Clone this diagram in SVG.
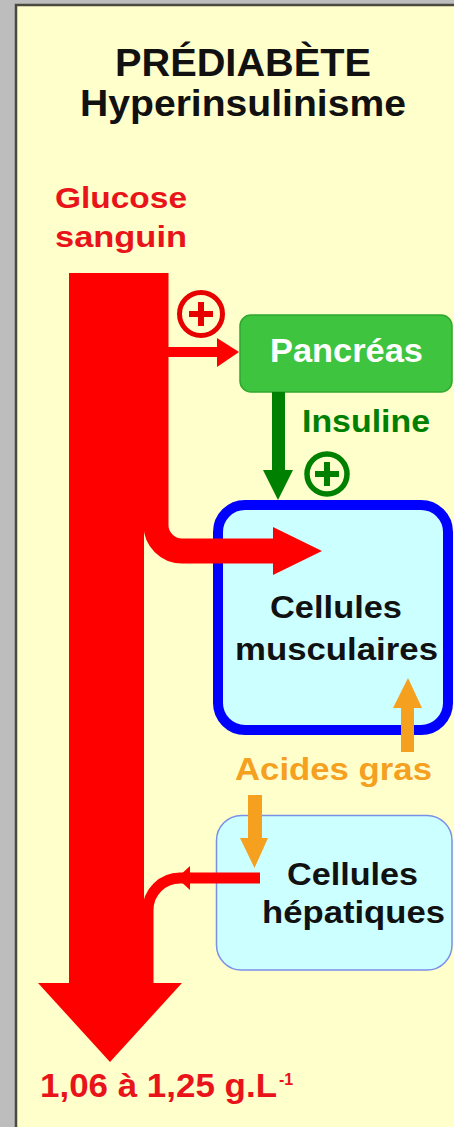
<svg xmlns="http://www.w3.org/2000/svg" width="454" height="1127" viewBox="0 0 454 1127">
  <style>
    text { font-family: "Liberation Sans", Arial, sans-serif; font-weight: bold; }
    .title { fill: #111111; text-anchor: middle; }
    .red { fill: #E8141A; }
    .dark { fill: #111111; font-size: 32px; }
    .cell { fill: #CCFFFF; }
    .arrowRed { fill: #FF0000; }
    .orange { fill: #F5A01E; }
  </style>
  <defs>
    <g id="plus">
      <rect x="-12" y="-3" width="24" height="6"/>
      <rect x="-3" y="-12" width="6" height="24"/>
    </g>
  </defs>

  <!-- frame -->
  <rect x="0" y="0" width="454" height="1127" fill="#BDBDBD"/>
  <rect x="16" y="5" width="450" height="1130" fill="#FFFFCC" stroke="#4A4A3E" stroke-width="2.5"/>

  <g id="title">
    <text class="title" x="243" y="76" font-size="39" textLength="256" lengthAdjust="spacingAndGlyphs">PRÉDIABÈTE</text>
    <text class="title" x="243" y="116" font-size="36" textLength="326" lengthAdjust="spacingAndGlyphs">Hyperinsulinisme</text>
  </g>

  <g id="glucose-label">
    <text class="red" x="55" y="208" font-size="30" textLength="132" lengthAdjust="spacingAndGlyphs">Glucose</text>
    <text class="red" x="55" y="247" font-size="30" textLength="132" lengthAdjust="spacingAndGlyphs">sanguin</text>
  </g>

  <g id="pancreas">
    <rect x="240" y="315" width="212" height="77" rx="11" fill="#3EC43E" stroke="#2FA82F" stroke-width="1.5"/>
    <text x="270" y="362" font-size="33" fill="#FFFFFF" textLength="153" lengthAdjust="spacingAndGlyphs">Pancréas</text>
  </g>

  <g id="insuline">
    <text x="302" y="432" font-size="31" fill="#008000" textLength="128" lengthAdjust="spacingAndGlyphs">Insuline</text>
  </g>

  <g id="muscle">
    <rect class="cell" x="218" y="505" width="230" height="225" rx="27" stroke="#0000FF" stroke-width="10"/>
    <text class="dark" x="270" y="618" textLength="132" lengthAdjust="spacingAndGlyphs">Cellules</text>
    <text class="dark" x="235" y="660" textLength="203" lengthAdjust="spacingAndGlyphs">musculaires</text>
  </g>

  <g id="acides-gras">
    <text class="orange" x="235" y="780" font-size="32" textLength="197" lengthAdjust="spacingAndGlyphs">Acides gras</text>
  </g>

  <g id="liver">
    <rect class="cell" x="216.5" y="815.5" width="235.5" height="154.5" rx="25" stroke="#7B8FE8" stroke-width="1.5"/>
    <text class="dark" x="287" y="885" textLength="131" lengthAdjust="spacingAndGlyphs">Cellules</text>
    <text class="dark" x="262" y="923" textLength="183" lengthAdjust="spacingAndGlyphs">hépatiques</text>
  </g>

  <g id="connectors">
    <!-- main glucose flow -->
    <rect class="arrowRed" x="69" y="273" width="75" height="712"/>
    <polygon class="arrowRed" points="38,983 182,983 110,1062"/>
    <!-- branch to muscle cells -->
    <path d="M156 273 V525 A26 26 0 0 0 182 551 H275" fill="none" stroke="#FF0000" stroke-width="25"/>
    <polygon class="arrowRed" points="273,527 322,551 273,575"/>
    <!-- branch to pancreas -->
    <rect class="arrowRed" x="166" y="347" width="53" height="10"/>
    <polygon class="arrowRed" points="217,338 239,352 217,367"/>
    <!-- return from liver -->
    <path d="M260 878 H180 A32 32 0 0 0 148 910 V985" fill="none" stroke="#FF0000" stroke-width="11"/>
    <polygon class="arrowRed" points="190,866 177,878 190,890"/>
    <!-- insulin -->
    <rect x="272" y="392" width="13" height="80" fill="#008000"/>
    <polygon points="263,470 293,470 278,500" fill="#008000"/>
    <!-- fatty acids -->
    <rect class="orange" x="401" y="706" width="13" height="46"/>
    <polygon class="orange" points="393,708 422,708 408,678"/>
    <rect class="orange" x="248" y="795" width="14" height="45"/>
    <polygon class="orange" points="240,838 268,838 254.5,868"/>
  </g>

  <g id="plus-red">
    <circle cx="201" cy="314" r="21.5" fill="none" stroke="#E60000" stroke-width="5"/>
    <use href="#plus" x="201" y="314" fill="#E60000"/>
  </g>

  <g id="plus-green">
    <circle cx="327" cy="474" r="20" fill="none" stroke="#008000" stroke-width="5.5"/>
    <use href="#plus" x="327" y="474" fill="#008000"/>
  </g>

  <g id="glycemia">
    <text class="red" x="40" y="1097" font-size="33"><tspan textLength="237" lengthAdjust="spacingAndGlyphs">1,06 à 1,25 g.L</tspan><tspan x="279" y="1085" font-size="16">-1</tspan></text>
  </g>
</svg>
